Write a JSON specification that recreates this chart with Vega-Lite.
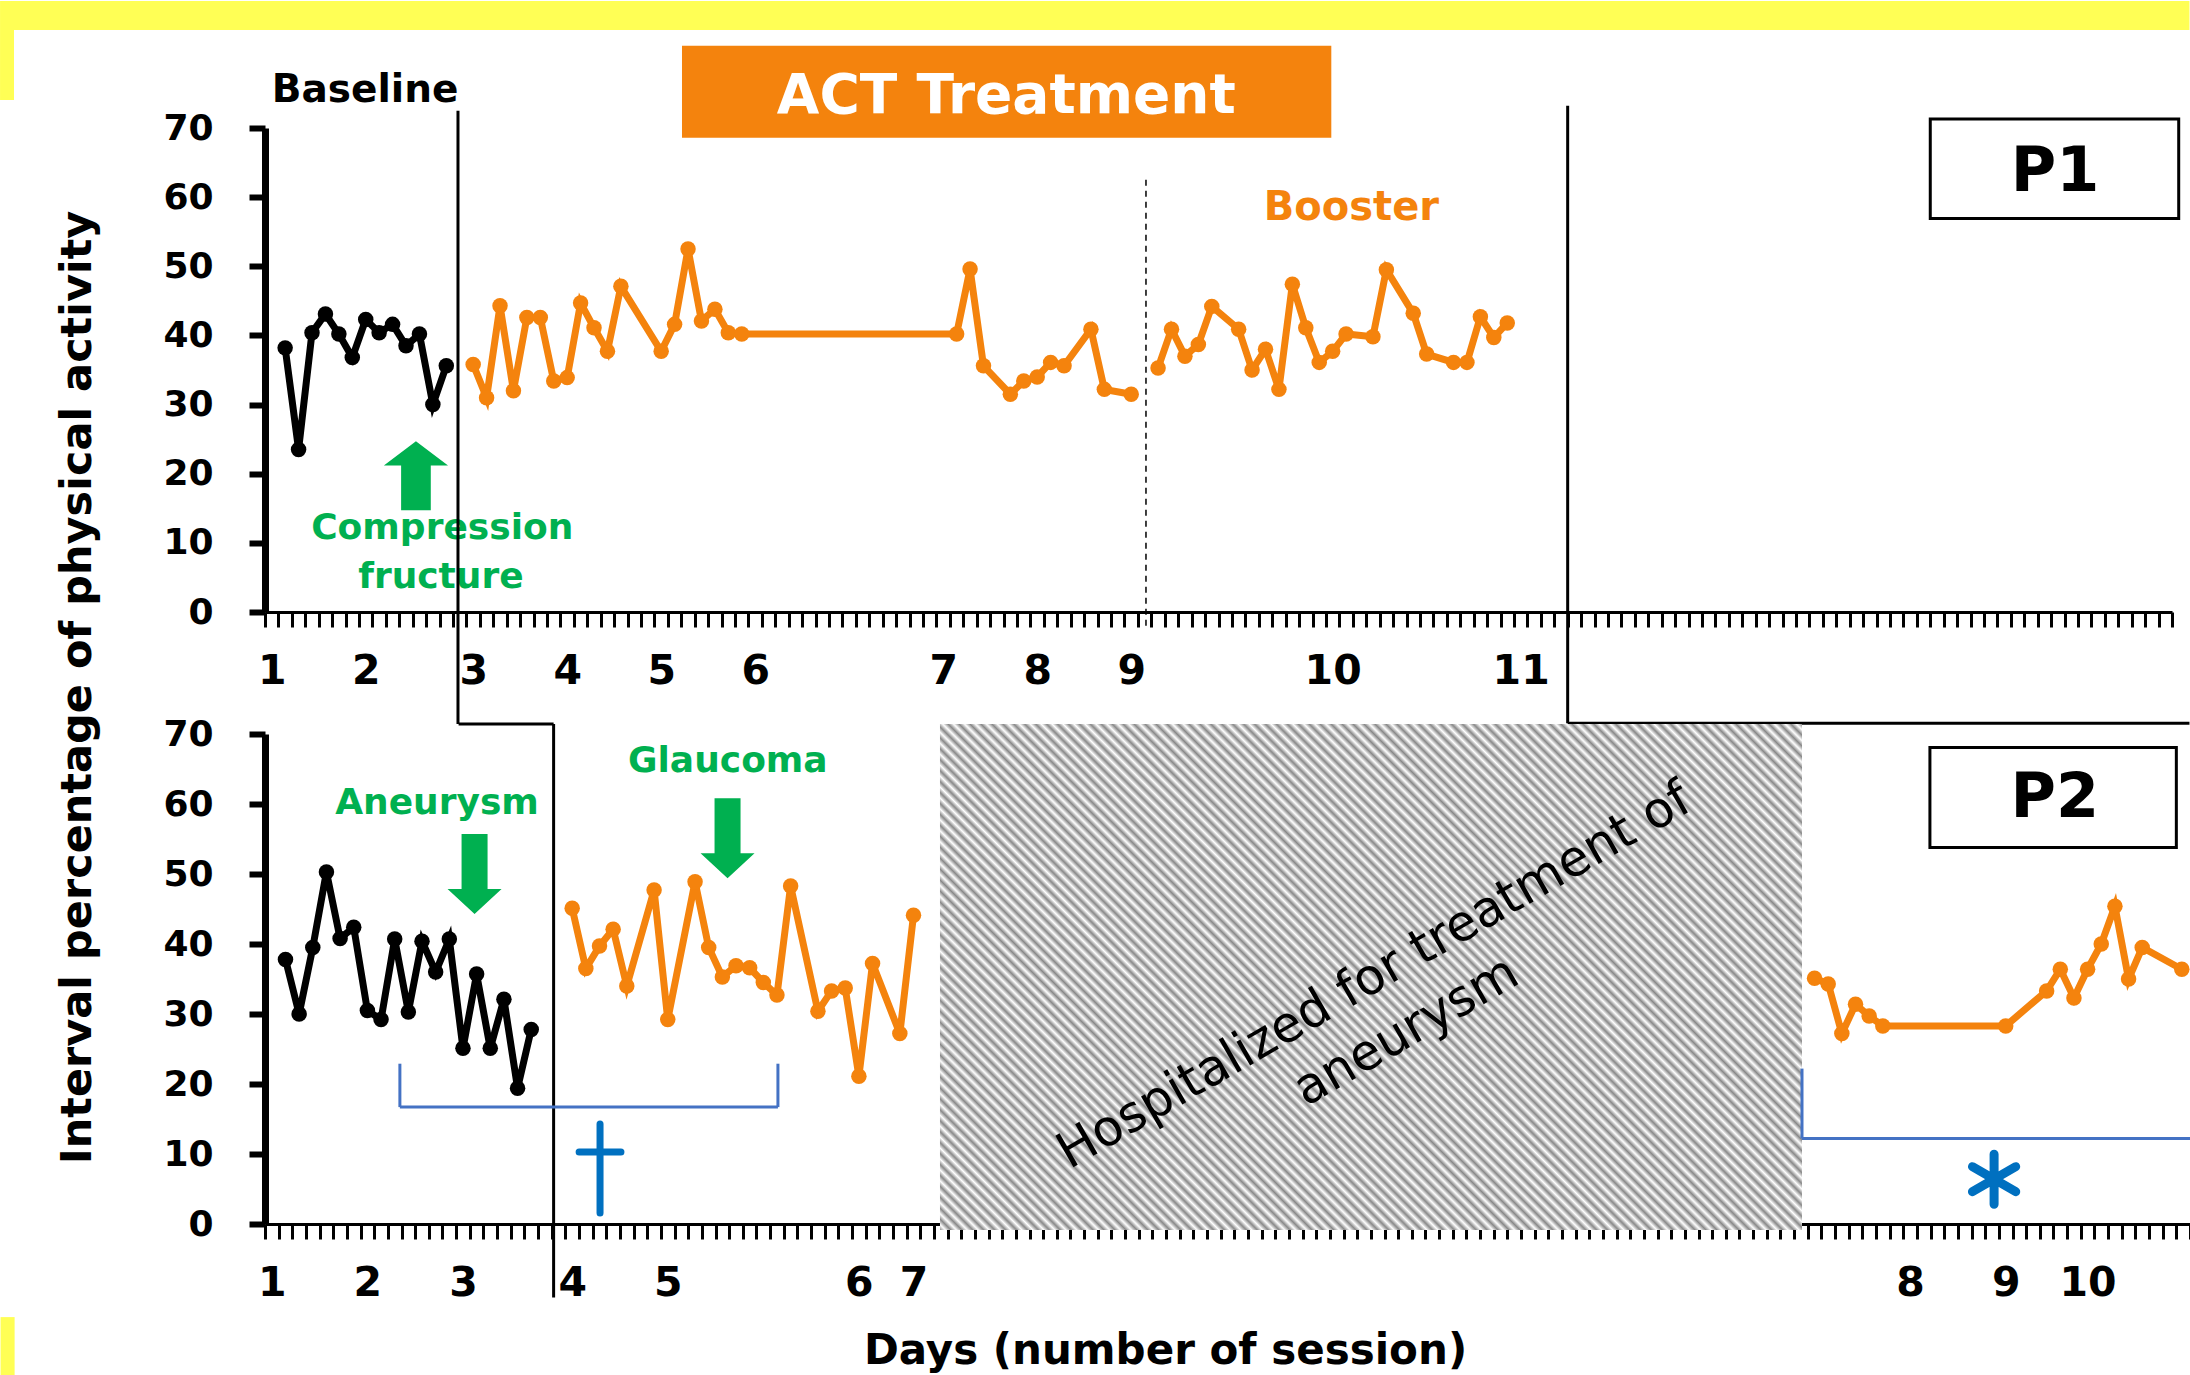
{
 "$schema": "https://vega.github.io/schema/vega-lite/v6.json",
 "background": "white",
 "padding": 0,
 "autosize": {"type": "pad"},
 "bounds": "flush",
 "spacing": 122,
 "config": {"view": {"stroke": null}, "axis": {"grid": false, "domainColor": "black", "tickColor": "black", "labelColor": "black", "titleColor": "black", "labelFont": "DejaVu Sans", "labelFontWeight": "bold"}},
 "vconcat": [
  {
   "width": 1907, "height": 484,
   "encoding": {
    "x": {"field": "s", "type": "quantitative", "scale": {"domain": [0, 142], "nice": false, "zero": false},
     "axis": {"tickCount": 142, "tickSize": 15, "tickWidth": 3, "domainWidth": 3, "labelFontSize": 41, "labelPadding": 44, "labelBaseline": "middle", "labelOffset": 6.7, "labelOverlap": false, "labelFlush": false, "labelBound": false, "title": null,
      "labelExpr": "indexof([0,7,15,22,29,36,50,57,64,79,93], datum.value) >= 0 ? '' + (indexof([0,7,15,22,29,36,50,57,64,79,93], datum.value) + 1) : ''"}},
    "y": {"field": "v", "type": "quantitative", "scale": {"domain": [0, 70], "nice": false, "zero": false},
     "axis": {"values": [0, 10, 20, 30, 40, 50, 60, 70], "tickSize": 16, "tickWidth": 6, "domainWidth": 7, "labelFontSize": 36, "labelPadding": 36, "labelBaseline": "middle",
      "title": "Interval percentage of physical activity", "titleFont": "DejaVu Sans", "titleFontSize": 43, "titleFontWeight": "bold", "titleAngle": 270, "titleX": -188, "titleY": 559, "titleAlign": "center", "titleBaseline": "middle"}}
   },
   "layer": [
    {"data": {"values": [{"s": -19.73, "s2": 143.3, "v": 88.37, "v2": 84.18}, {"s": -19.73, "s2": -18.69, "v": 84.18, "v2": 74.05}]},
     "mark": {"type": "rect", "color": "#FFFF55", "clip": false},
     "encoding": {"x2": {"field": "s2"}, "y2": {"field": "v2"}}},
    {"data": {"values": [{"s": 31.05, "s2": 79.4, "v": 81.9, "v2": 68.6}]},
     "mark": {"type": "rect", "color": "#F4830D", "clip": false},
     "encoding": {"x2": {"field": "s2"}, "y2": {"field": "v2"}}},
    {"data": {"values": [{"s": 55.2, "v": 74.7, "t": "ACT Treatment"}]},
     "mark": {"type": "text", "font": "DejaVu Sans", "fontWeight": "bold", "fontSize": 55, "color": "white", "align": "center", "baseline": "middle", "clip": false},
     "encoding": {"text": {"field": "t"}}},
    {"data": {"values": [{"s": 7.45, "v": 75.5, "t": "Baseline"}]},
     "mark": {"type": "text", "font": "DejaVu Sans", "fontWeight": "bold", "fontSize": 39, "color": "black", "align": "center", "baseline": "middle", "clip": false},
     "encoding": {"text": {"field": "t"}}},
    {"data": {"values": [{"s": 80.9, "v": 58.4, "t": "Booster"}]},
     "mark": {"type": "text", "font": "DejaVu Sans", "fontWeight": "bold", "fontSize": 40, "color": "#F4830D", "align": "center", "baseline": "middle", "clip": false},
     "encoding": {"text": {"field": "t"}}},
    {"data": {"values": [{"s": 13.2, "v": 12.1, "t": "Compression"}, {"s": 13.1, "v": 5.1, "t": "fructure"}]},
     "mark": {"type": "text", "font": "DejaVu Sans", "fontWeight": "bold", "fontSize": 36, "color": "#00B050", "align": "center", "baseline": "middle", "clip": false},
     "encoding": {"text": {"field": "t"}}},
    {"data": {"values": [{"s": 11.24, "v": 19.7}]},
     "mark": {"type": "point", "shape": "M 0 -1 L 0.93 -0.3 L 0.43 -0.3 L 0.43 1 L -0.43 1 L -0.43 -0.3 L -0.93 -0.3 Z", "size": 4761, "filled": true, "color": "#00B050", "opacity": 1, "clip": false},
     "encoding": {}},
    {"data": {"values": [{"s": 14.37, "s2": 14.37, "v": 72.5, "v2": -16.2}, {"s": 97.0, "s2": 97.0, "v": 73.2, "v2": -16.1}, {"s": 97.0, "s2": 143.3, "v": -16.1, "v2": -16.1}]},
     "mark": {"type": "rule", "color": "black", "strokeWidth": 3, "clip": false},
     "encoding": {"x2": {"field": "s2"}, "y2": {"field": "v2"}}},
    {"data": {"values": [{"s": 65.6, "s2": 65.6, "v": 62.5, "v2": -2}]},
     "mark": {"type": "rule", "color": "black", "strokeWidth": 1.5, "strokeDash": [6, 5], "clip": false},
     "encoding": {"x2": {"field": "s2"}, "y2": {"field": "v2"}}},
    {"data": {"values": [{"s": 124.0, "s2": 142.5, "v": 71.3, "v2": 56.9}]},
     "mark": {"type": "rect", "fill": "white", "stroke": "black", "strokeWidth": 3, "clip": false},
     "encoding": {"x2": {"field": "s2"}, "y2": {"field": "v2"}}},
    {"data": {"values": [{"s": 133.3, "v": 63.7, "t": "P1"}]},
     "mark": {"type": "text", "font": "DejaVu Sans", "fontWeight": "bold", "fontSize": 62, "color": "black", "align": "center", "baseline": "middle", "clip": false},
     "encoding": {"text": {"field": "t"}}},
    {"data": {"name": "p1"},
     "mark": {"type": "line", "strokeWidth": 7, "clip": false},
     "encoding": {"color": {"field": "p", "type": "nominal", "scale": {"domain": ["Baseline", "Treatment"], "range": ["#000000", "#F4830D"]}, "legend": null}, "detail": {"field": "g"}}},
    {"data": {"name": "p1"},
     "mark": {"type": "circle", "size": 240, "opacity": 1, "clip": false},
     "encoding": {"color": {"field": "p", "type": "nominal", "scale": {"domain": ["Baseline", "Treatment"], "range": ["#000000", "#F4830D"]}, "legend": null}}}
   ]
  },
  {
   "width": 1925, "height": 490,
   "encoding": {
    "x": {"field": "s", "type": "quantitative", "scale": {"domain": [0, 141], "nice": false, "zero": false},
     "axis": {"tickCount": 141, "tickSize": 15, "tickWidth": 3, "domainWidth": 3, "labelFontSize": 41, "labelPadding": 44, "labelBaseline": "middle", "labelOffset": 6.8, "labelOverlap": false, "labelFlush": false, "labelBound": false,
      "labelExpr": "indexof([0,7,14,22,29,43,47,120,127,133], datum.value) >= 0 ? '' + (indexof([0,7,14,22,29,43,47,120,127,133], datum.value) + 1) : ''",
      "title": "Days (number of session)", "titleFont": "DejaVu Sans", "titleFontSize": 42, "titleFontWeight": "bold", "titleX": 900, "titleY": 126, "titleAlign": "center", "titleBaseline": "middle", "titleAngle": 0}},
    "y": {"field": "v", "type": "quantitative", "scale": {"domain": [0, 70], "nice": false, "zero": false},
     "axis": {"values": [0, 10, 20, 30, 40, 50, 60, 70], "tickSize": 16, "tickWidth": 6, "domainWidth": 7, "labelFontSize": 36, "labelPadding": 36, "labelBaseline": "middle", "title": null}}
   },
   "layer": [
    {"data": {"values": [{"s": 49.44, "s2": 112.58, "v": 71.43, "v2": -0.86}]},
     "mark": {"type": "rect", "clip": false, "color": {"gradient": "linear", "x1": 0, "y1": 1, "x2": 1.18, "y2": 0.307, "stops": [
{"offset":0,"color":"#888"},{"offset":0.004,"color":"#fff"},{"offset":0.008,"color":"#888"},{"offset":0.012,"color":"#fff"},{"offset":0.016,"color":"#888"},{"offset":0.02,"color":"#fff"},{"offset":0.024,"color":"#888"},{"offset":0.028,"color":"#fff"},{"offset":0.032,"color":"#888"},{"offset":0.036,"color":"#fff"},
{"offset":0.04,"color":"#888"},{"offset":0.044,"color":"#fff"},{"offset":0.048,"color":"#888"},{"offset":0.052,"color":"#fff"},{"offset":0.056,"color":"#888"},{"offset":0.06,"color":"#fff"},{"offset":0.064,"color":"#888"},{"offset":0.068,"color":"#fff"},{"offset":0.072,"color":"#888"},{"offset":0.076,"color":"#fff"},
{"offset":0.08,"color":"#888"},{"offset":0.084,"color":"#fff"},{"offset":0.088,"color":"#888"},{"offset":0.092,"color":"#fff"},{"offset":0.096,"color":"#888"},{"offset":0.1,"color":"#fff"},{"offset":0.104,"color":"#888"},{"offset":0.108,"color":"#fff"},{"offset":0.112,"color":"#888"},{"offset":0.116,"color":"#fff"},
{"offset":0.12,"color":"#888"},{"offset":0.124,"color":"#fff"},{"offset":0.128,"color":"#888"},{"offset":0.132,"color":"#fff"},{"offset":0.136,"color":"#888"},{"offset":0.14,"color":"#fff"},{"offset":0.144,"color":"#888"},{"offset":0.148,"color":"#fff"},{"offset":0.152,"color":"#888"},{"offset":0.156,"color":"#fff"},
{"offset":0.16,"color":"#888"},{"offset":0.164,"color":"#fff"},{"offset":0.168,"color":"#888"},{"offset":0.172,"color":"#fff"},{"offset":0.176,"color":"#888"},{"offset":0.18,"color":"#fff"},{"offset":0.184,"color":"#888"},{"offset":0.188,"color":"#fff"},{"offset":0.192,"color":"#888"},{"offset":0.196,"color":"#fff"},
{"offset":0.2,"color":"#888"},{"offset":0.204,"color":"#fff"},{"offset":0.208,"color":"#888"},{"offset":0.212,"color":"#fff"},{"offset":0.216,"color":"#888"},{"offset":0.22,"color":"#fff"},{"offset":0.224,"color":"#888"},{"offset":0.228,"color":"#fff"},{"offset":0.232,"color":"#888"},{"offset":0.236,"color":"#fff"},
{"offset":0.24,"color":"#888"},{"offset":0.244,"color":"#fff"},{"offset":0.248,"color":"#888"},{"offset":0.252,"color":"#fff"},{"offset":0.256,"color":"#888"},{"offset":0.26,"color":"#fff"},{"offset":0.264,"color":"#888"},{"offset":0.268,"color":"#fff"},{"offset":0.272,"color":"#888"},{"offset":0.276,"color":"#fff"},
{"offset":0.28,"color":"#888"},{"offset":0.284,"color":"#fff"},{"offset":0.288,"color":"#888"},{"offset":0.292,"color":"#fff"},{"offset":0.296,"color":"#888"},{"offset":0.3,"color":"#fff"},{"offset":0.304,"color":"#888"},{"offset":0.308,"color":"#fff"},{"offset":0.312,"color":"#888"},{"offset":0.316,"color":"#fff"},
{"offset":0.32,"color":"#888"},{"offset":0.324,"color":"#fff"},{"offset":0.328,"color":"#888"},{"offset":0.332,"color":"#fff"},{"offset":0.336,"color":"#888"},{"offset":0.34,"color":"#fff"},{"offset":0.344,"color":"#888"},{"offset":0.348,"color":"#fff"},{"offset":0.352,"color":"#888"},{"offset":0.356,"color":"#fff"},
{"offset":0.36,"color":"#888"},{"offset":0.364,"color":"#fff"},{"offset":0.368,"color":"#888"},{"offset":0.372,"color":"#fff"},{"offset":0.376,"color":"#888"},{"offset":0.38,"color":"#fff"},{"offset":0.384,"color":"#888"},{"offset":0.388,"color":"#fff"},{"offset":0.392,"color":"#888"},{"offset":0.396,"color":"#fff"},
{"offset":0.4,"color":"#888"},{"offset":0.404,"color":"#fff"},{"offset":0.408,"color":"#888"},{"offset":0.412,"color":"#fff"},{"offset":0.416,"color":"#888"},{"offset":0.42,"color":"#fff"},{"offset":0.424,"color":"#888"},{"offset":0.428,"color":"#fff"},{"offset":0.432,"color":"#888"},{"offset":0.436,"color":"#fff"},
{"offset":0.44,"color":"#888"},{"offset":0.444,"color":"#fff"},{"offset":0.448,"color":"#888"},{"offset":0.452,"color":"#fff"},{"offset":0.456,"color":"#888"},{"offset":0.46,"color":"#fff"},{"offset":0.464,"color":"#888"},{"offset":0.468,"color":"#fff"},{"offset":0.472,"color":"#888"},{"offset":0.476,"color":"#fff"},
{"offset":0.48,"color":"#888"},{"offset":0.484,"color":"#fff"},{"offset":0.488,"color":"#888"},{"offset":0.492,"color":"#fff"},{"offset":0.496,"color":"#888"},{"offset":0.5,"color":"#fff"},{"offset":0.504,"color":"#888"},{"offset":0.508,"color":"#fff"},{"offset":0.512,"color":"#888"},{"offset":0.516,"color":"#fff"},
{"offset":0.52,"color":"#888"},{"offset":0.524,"color":"#fff"},{"offset":0.528,"color":"#888"},{"offset":0.532,"color":"#fff"},{"offset":0.536,"color":"#888"},{"offset":0.54,"color":"#fff"},{"offset":0.544,"color":"#888"},{"offset":0.548,"color":"#fff"},{"offset":0.552,"color":"#888"},{"offset":0.556,"color":"#fff"},
{"offset":0.56,"color":"#888"},{"offset":0.564,"color":"#fff"},{"offset":0.568,"color":"#888"},{"offset":0.572,"color":"#fff"},{"offset":0.576,"color":"#888"},{"offset":0.58,"color":"#fff"},{"offset":0.584,"color":"#888"},{"offset":0.588,"color":"#fff"},{"offset":0.592,"color":"#888"},{"offset":0.596,"color":"#fff"},
{"offset":0.6,"color":"#888"},{"offset":0.604,"color":"#fff"},{"offset":0.608,"color":"#888"},{"offset":0.612,"color":"#fff"},{"offset":0.616,"color":"#888"},{"offset":0.62,"color":"#fff"},{"offset":0.624,"color":"#888"},{"offset":0.628,"color":"#fff"},{"offset":0.632,"color":"#888"},{"offset":0.636,"color":"#fff"},
{"offset":0.64,"color":"#888"},{"offset":0.644,"color":"#fff"},{"offset":0.648,"color":"#888"},{"offset":0.652,"color":"#fff"},{"offset":0.656,"color":"#888"},{"offset":0.66,"color":"#fff"},{"offset":0.664,"color":"#888"},{"offset":0.668,"color":"#fff"},{"offset":0.672,"color":"#888"},{"offset":0.676,"color":"#fff"},
{"offset":0.68,"color":"#888"},{"offset":0.684,"color":"#fff"},{"offset":0.688,"color":"#888"},{"offset":0.692,"color":"#fff"},{"offset":0.696,"color":"#888"},{"offset":0.7,"color":"#fff"},{"offset":0.704,"color":"#888"},{"offset":0.708,"color":"#fff"},{"offset":0.712,"color":"#888"},{"offset":0.716,"color":"#fff"},
{"offset":0.72,"color":"#888"},{"offset":0.724,"color":"#fff"},{"offset":0.728,"color":"#888"},{"offset":0.732,"color":"#fff"},{"offset":0.736,"color":"#888"},{"offset":0.74,"color":"#fff"},{"offset":0.744,"color":"#888"},{"offset":0.748,"color":"#fff"},{"offset":0.752,"color":"#888"},{"offset":0.756,"color":"#fff"},
{"offset":0.76,"color":"#888"},{"offset":0.764,"color":"#fff"},{"offset":0.768,"color":"#888"},{"offset":0.772,"color":"#fff"},{"offset":0.776,"color":"#888"},{"offset":0.78,"color":"#fff"},{"offset":0.784,"color":"#888"},{"offset":0.788,"color":"#fff"},{"offset":0.792,"color":"#888"},{"offset":0.796,"color":"#fff"},
{"offset":0.8,"color":"#888"},{"offset":0.804,"color":"#fff"},{"offset":0.808,"color":"#888"},{"offset":0.812,"color":"#fff"},{"offset":0.816,"color":"#888"},{"offset":0.82,"color":"#fff"},{"offset":0.824,"color":"#888"},{"offset":0.828,"color":"#fff"},{"offset":0.832,"color":"#888"},{"offset":0.836,"color":"#fff"},
{"offset":0.84,"color":"#888"},{"offset":0.844,"color":"#fff"},{"offset":0.848,"color":"#888"},{"offset":0.852,"color":"#fff"},{"offset":0.856,"color":"#888"},{"offset":0.86,"color":"#fff"},{"offset":0.864,"color":"#888"},{"offset":0.868,"color":"#fff"},{"offset":0.872,"color":"#888"},{"offset":0.876,"color":"#fff"},
{"offset":0.88,"color":"#888"},{"offset":0.884,"color":"#fff"},{"offset":0.888,"color":"#888"},{"offset":0.892,"color":"#fff"},{"offset":0.896,"color":"#888"},{"offset":0.9,"color":"#fff"},{"offset":0.904,"color":"#888"},{"offset":0.908,"color":"#fff"},{"offset":0.912,"color":"#888"},{"offset":0.916,"color":"#fff"},
{"offset":0.92,"color":"#888"},{"offset":0.924,"color":"#fff"},{"offset":0.928,"color":"#888"},{"offset":0.932,"color":"#fff"},{"offset":0.936,"color":"#888"},{"offset":0.94,"color":"#fff"},{"offset":0.944,"color":"#888"},{"offset":0.948,"color":"#fff"},{"offset":0.952,"color":"#888"},{"offset":0.956,"color":"#fff"},
{"offset":0.96,"color":"#888"},{"offset":0.964,"color":"#fff"},{"offset":0.968,"color":"#888"},{"offset":0.972,"color":"#fff"},{"offset":0.976,"color":"#888"},{"offset":0.98,"color":"#fff"},{"offset":0.984,"color":"#888"},{"offset":0.988,"color":"#fff"},{"offset":0.992,"color":"#888"},{"offset":0.996,"color":"#fff"},
{"offset":1,"color":"#888"}]}},
     "encoding": {"x2": {"field": "s2"}, "y2": {"field": "v2"}}},
    {"data": {"values": [{"s": 81.26, "v": 35.4, "t": "Hospitalized for treatment of\naneurysm"}]},
     "mark": {"type": "text", "font": "DejaVu Sans", "fontSize": 50, "lineHeight": 64, "lineBreak": "\n", "angle": -30, "color": "black", "align": "center", "baseline": "middle", "clip": false},
     "encoding": {"text": {"field": "t"}}},
    {"data": {"values": [{"s": -19.37, "s2": -18.34, "v": -13.3, "v2": -21.6}]},
     "mark": {"type": "rect", "color": "#FFFF55", "clip": false},
     "encoding": {"x2": {"field": "s2"}, "y2": {"field": "v2"}}},
    {"data": {"values": [{"s": 14.18, "s2": 21.14, "v": 71.43, "v2": 71.43}, {"s": 21.14, "s2": 21.14, "v": 71.43, "v2": -10.5}]},
     "mark": {"type": "rule", "color": "black", "strokeWidth": 3, "clip": false},
     "encoding": {"x2": {"field": "s2"}, "y2": {"field": "v2"}}},
    {"data": {"values": [{"s": 9.88, "s2": 9.88, "v": 22.9, "v2": 16.7}, {"s": 37.57, "s2": 37.57, "v": 22.9, "v2": 16.7}, {"s": 9.88, "s2": 37.57, "v": 16.7, "v2": 16.7}, {"s": 112.58, "s2": 112.58, "v": 22.2, "v2": 12.2}, {"s": 112.58, "s2": 141, "v": 12.2, "v2": 12.2}]},
     "mark": {"type": "rule", "color": "#4472C4", "strokeWidth": 3, "clip": false},
     "encoding": {"x2": {"field": "s2"}, "y2": {"field": "v2"}}},
    {"data": {"values": [{"s": 15.35, "v": 50.0}, {"s": 33.88, "v": 55.1}]},
     "mark": {"type": "point", "shape": "M 0 1 L 0.675 0.375 L 0.325 0.375 L 0.325 -1 L -0.325 -1 L -0.325 0.375 L -0.675 0.375 Z", "size": 6400, "filled": true, "color": "#00B050", "opacity": 1, "clip": false},
     "encoding": {}},
    {"data": {"values": [{"s": 12.6, "v": 60.1, "t": "Aneurysm"}, {"s": 33.9, "v": 66.1, "t": "Glaucoma"}]},
     "mark": {"type": "text", "font": "DejaVu Sans", "fontWeight": "bold", "fontSize": 36, "color": "#00B050", "align": "center", "baseline": "middle", "clip": false},
     "encoding": {"text": {"field": "t"}}},
    {"data": {"values": [{"s": 24.54, "v": 7.93}]},
     "mark": {"type": "point", "shape": "M 0 -1 L 0 1 M -0.47 -0.37 L 0.47 -0.37", "size": 7921, "filled": false, "color": "#0070C0", "strokeWidth": 7, "strokeCap": "round", "opacity": 1, "clip": false},
     "encoding": {}},
    {"data": {"values": [{"s": 126.65, "v": 6.4}]},
     "mark": {"type": "point", "shape": "M 0 -1 L 0 1 M -0.866 -0.5 L 0.866 0.5 M -0.866 0.5 L 0.866 -0.5", "size": 2500, "filled": false, "color": "#0070C0", "strokeWidth": 9, "strokeCap": "round", "opacity": 1, "clip": false},
     "encoding": {}},
    {"data": {"values": [{"s": 121.95, "s2": 140.0, "v": 68.07, "v2": 53.8}]},
     "mark": {"type": "rect", "fill": "white", "stroke": "black", "strokeWidth": 3, "clip": false},
     "encoding": {"x2": {"field": "s2"}, "y2": {"field": "v2"}}},
    {"data": {"values": [{"s": 131.1, "v": 60.8, "t": "P2"}]},
     "mark": {"type": "text", "font": "DejaVu Sans", "fontWeight": "bold", "fontSize": 62, "color": "black", "align": "center", "baseline": "middle", "clip": false},
     "encoding": {"text": {"field": "t"}}},
    {"data": {"name": "p2"},
     "mark": {"type": "line", "strokeWidth": 7, "clip": false},
     "encoding": {"color": {"field": "p", "type": "nominal", "scale": {"domain": ["Baseline", "Treatment"], "range": ["#000000", "#F4830D"]}, "legend": null}, "detail": {"field": "g"}}},
    {"data": {"name": "p2"},
     "mark": {"type": "circle", "size": 240, "opacity": 1, "clip": false},
     "encoding": {"color": {"field": "p", "type": "nominal", "scale": {"domain": ["Baseline", "Treatment"], "range": ["#000000", "#F4830D"]}, "legend": null}}}
   ]
  }
 ],
 "datasets": {
  "p1": [
   {"s": 1.5, "v": 38.2, "p": "Baseline", "g": "a"}, {"s": 2.5, "v": 23.5, "p": "Baseline", "g": "a"}, {"s": 3.5, "v": 40.4, "p": "Baseline", "g": "a"}, {"s": 4.5, "v": 43.1, "p": "Baseline", "g": "a"}, {"s": 5.5, "v": 40.2, "p": "Baseline", "g": "a"}, {"s": 6.5, "v": 36.8, "p": "Baseline", "g": "a"}, {"s": 7.5, "v": 42.3, "p": "Baseline", "g": "a"}, {"s": 8.5, "v": 40.4, "p": "Baseline", "g": "a"}, {"s": 9.5, "v": 41.6, "p": "Baseline", "g": "a"}, {"s": 10.5, "v": 38.5, "p": "Baseline", "g": "a"}, {"s": 11.5, "v": 40.2, "p": "Baseline", "g": "a"}, {"s": 12.5, "v": 30.0, "p": "Baseline", "g": "a"}, {"s": 13.5, "v": 35.6, "p": "Baseline", "g": "a"},
   {"s": 15.5, "v": 35.8, "p": "Treatment", "g": "b"}, {"s": 16.5, "v": 31.0, "p": "Treatment", "g": "b"}, {"s": 17.5, "v": 44.3, "p": "Treatment", "g": "b"}, {"s": 18.5, "v": 32.0, "p": "Treatment", "g": "b"}, {"s": 19.5, "v": 42.6, "p": "Treatment", "g": "b"}, {"s": 20.5, "v": 42.6, "p": "Treatment", "g": "b"}, {"s": 21.5, "v": 33.4, "p": "Treatment", "g": "b"}, {"s": 22.5, "v": 33.9, "p": "Treatment", "g": "b"}, {"s": 23.5, "v": 44.7, "p": "Treatment", "g": "b"}, {"s": 24.5, "v": 41.1, "p": "Treatment", "g": "b"}, {"s": 25.5, "v": 37.7, "p": "Treatment", "g": "b"}, {"s": 26.5, "v": 47.1, "p": "Treatment", "g": "b"}, {"s": 29.5, "v": 37.7, "p": "Treatment", "g": "b"}, {"s": 30.5, "v": 41.6, "p": "Treatment", "g": "b"}, {"s": 31.5, "v": 52.5, "p": "Treatment", "g": "b"}, {"s": 32.5, "v": 42.1, "p": "Treatment", "g": "b"}, {"s": 33.5, "v": 43.8, "p": "Treatment", "g": "b"}, {"s": 34.5, "v": 40.4, "p": "Treatment", "g": "b"}, {"s": 35.5, "v": 40.2, "p": "Treatment", "g": "b"}, {"s": 51.5, "v": 40.2, "p": "Treatment", "g": "b"}, {"s": 52.5, "v": 49.6, "p": "Treatment", "g": "b"}, {"s": 53.5, "v": 35.6, "p": "Treatment", "g": "b"}, {"s": 55.5, "v": 31.5, "p": "Treatment", "g": "b"}, {"s": 56.5, "v": 33.4, "p": "Treatment", "g": "b"}, {"s": 57.5, "v": 34.0, "p": "Treatment", "g": "b"}, {"s": 58.5, "v": 36.1, "p": "Treatment", "g": "b"}, {"s": 59.5, "v": 35.6, "p": "Treatment", "g": "b"}, {"s": 61.5, "v": 40.9, "p": "Treatment", "g": "b"}, {"s": 62.5, "v": 32.2, "p": "Treatment", "g": "b"}, {"s": 64.5, "v": 31.5, "p": "Treatment", "g": "b"},
   {"s": 66.5, "v": 35.3, "p": "Treatment", "g": "c"}, {"s": 67.5, "v": 40.9, "p": "Treatment", "g": "c"}, {"s": 68.5, "v": 37.0, "p": "Treatment", "g": "c"}, {"s": 69.5, "v": 38.7, "p": "Treatment", "g": "c"}, {"s": 70.5, "v": 44.2, "p": "Treatment", "g": "c"}, {"s": 72.5, "v": 40.9, "p": "Treatment", "g": "c"}, {"s": 73.5, "v": 35.0, "p": "Treatment", "g": "c"}, {"s": 74.5, "v": 38.0, "p": "Treatment", "g": "c"}, {"s": 75.5, "v": 32.2, "p": "Treatment", "g": "c"}, {"s": 76.5, "v": 47.4, "p": "Treatment", "g": "c"}, {"s": 77.5, "v": 41.1, "p": "Treatment", "g": "c"}, {"s": 78.5, "v": 36.1, "p": "Treatment", "g": "c"}, {"s": 79.5, "v": 37.7, "p": "Treatment", "g": "c"}, {"s": 80.5, "v": 40.2, "p": "Treatment", "g": "c"}, {"s": 82.5, "v": 39.8, "p": "Treatment", "g": "c"}, {"s": 83.5, "v": 49.5, "p": "Treatment", "g": "c"}, {"s": 85.5, "v": 43.2, "p": "Treatment", "g": "c"}, {"s": 86.5, "v": 37.3, "p": "Treatment", "g": "c"}, {"s": 88.5, "v": 36.1, "p": "Treatment", "g": "c"}, {"s": 89.5, "v": 36.1, "p": "Treatment", "g": "c"}, {"s": 90.5, "v": 42.7, "p": "Treatment", "g": "c"}, {"s": 91.5, "v": 39.7, "p": "Treatment", "g": "c"}, {"s": 92.5, "v": 41.8, "p": "Treatment", "g": "c"}
  ],
  "p2": [
   {"s": 1.5, "v": 37.8, "p": "Baseline", "g": "a"}, {"s": 2.5, "v": 30.0, "p": "Baseline", "g": "a"}, {"s": 3.5, "v": 39.5, "p": "Baseline", "g": "a"}, {"s": 4.5, "v": 50.3, "p": "Baseline", "g": "a"}, {"s": 5.5, "v": 40.8, "p": "Baseline", "g": "a"}, {"s": 6.5, "v": 42.4, "p": "Baseline", "g": "a"}, {"s": 7.5, "v": 30.5, "p": "Baseline", "g": "a"}, {"s": 8.5, "v": 29.2, "p": "Baseline", "g": "a"}, {"s": 9.5, "v": 40.7, "p": "Baseline", "g": "a"}, {"s": 10.5, "v": 30.3, "p": "Baseline", "g": "a"}, {"s": 11.5, "v": 40.4, "p": "Baseline", "g": "a"}, {"s": 12.5, "v": 36.0, "p": "Baseline", "g": "a"}, {"s": 13.5, "v": 40.7, "p": "Baseline", "g": "a"}, {"s": 14.5, "v": 25.1, "p": "Baseline", "g": "a"}, {"s": 15.5, "v": 35.7, "p": "Baseline", "g": "a"}, {"s": 16.5, "v": 25.1, "p": "Baseline", "g": "a"}, {"s": 17.5, "v": 32.1, "p": "Baseline", "g": "a"}, {"s": 18.5, "v": 19.4, "p": "Baseline", "g": "a"}, {"s": 19.5, "v": 27.8, "p": "Baseline", "g": "a"},
   {"s": 22.5, "v": 45.1, "p": "Treatment", "g": "b"}, {"s": 23.5, "v": 36.5, "p": "Treatment", "g": "b"}, {"s": 24.5, "v": 39.7, "p": "Treatment", "g": "b"}, {"s": 25.5, "v": 42.1, "p": "Treatment", "g": "b"}, {"s": 26.5, "v": 34.0, "p": "Treatment", "g": "b"}, {"s": 28.5, "v": 47.7, "p": "Treatment", "g": "b"}, {"s": 29.5, "v": 29.2, "p": "Treatment", "g": "b"}, {"s": 31.5, "v": 48.9, "p": "Treatment", "g": "b"}, {"s": 32.5, "v": 39.5, "p": "Treatment", "g": "b"}, {"s": 33.5, "v": 35.3, "p": "Treatment", "g": "b"}, {"s": 34.5, "v": 36.9, "p": "Treatment", "g": "b"}, {"s": 35.5, "v": 36.6, "p": "Treatment", "g": "b"}, {"s": 36.5, "v": 34.5, "p": "Treatment", "g": "b"}, {"s": 37.5, "v": 32.7, "p": "Treatment", "g": "b"}, {"s": 38.5, "v": 48.3, "p": "Treatment", "g": "b"}, {"s": 40.5, "v": 30.4, "p": "Treatment", "g": "b"}, {"s": 41.5, "v": 33.3, "p": "Treatment", "g": "b"}, {"s": 42.5, "v": 33.7, "p": "Treatment", "g": "b"}, {"s": 43.5, "v": 21.1, "p": "Treatment", "g": "b"}, {"s": 44.5, "v": 37.2, "p": "Treatment", "g": "b"}, {"s": 46.5, "v": 27.2, "p": "Treatment", "g": "b"}, {"s": 47.5, "v": 44.1, "p": "Treatment", "g": "b"},
   {"s": 113.5, "v": 35.1, "p": "Treatment", "g": "c"}, {"s": 114.5, "v": 34.3, "p": "Treatment", "g": "c"}, {"s": 115.5, "v": 27.2, "p": "Treatment", "g": "c"}, {"s": 116.5, "v": 31.4, "p": "Treatment", "g": "c"}, {"s": 117.5, "v": 29.7, "p": "Treatment", "g": "c"}, {"s": 118.5, "v": 28.3, "p": "Treatment", "g": "c"}, {"s": 127.5, "v": 28.3, "p": "Treatment", "g": "c"}, {"s": 130.5, "v": 33.3, "p": "Treatment", "g": "c"}, {"s": 131.5, "v": 36.4, "p": "Treatment", "g": "c"}, {"s": 132.5, "v": 32.3, "p": "Treatment", "g": "c"}, {"s": 133.5, "v": 36.4, "p": "Treatment", "g": "c"}, {"s": 134.5, "v": 40.0, "p": "Treatment", "g": "c"}, {"s": 135.5, "v": 45.4, "p": "Treatment", "g": "c"}, {"s": 136.5, "v": 35.0, "p": "Treatment", "g": "c"}, {"s": 137.5, "v": 39.5, "p": "Treatment", "g": "c"}, {"s": 140.4, "v": 36.4, "p": "Treatment", "g": "c"}
  ]
 }
}
